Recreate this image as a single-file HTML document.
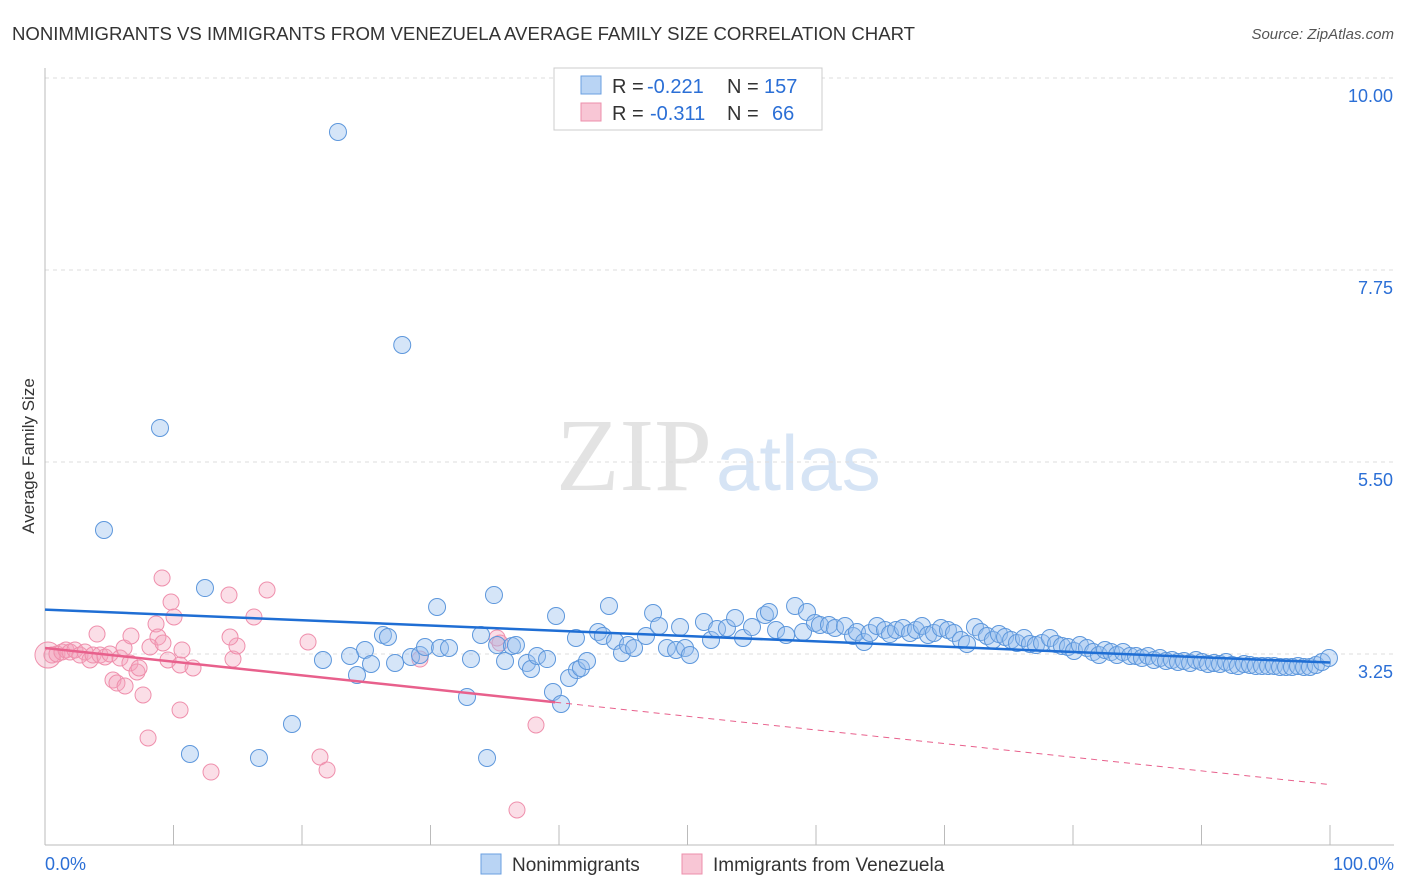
<!DOCTYPE html>
<html><head><meta charset="utf-8"><style>
body{margin:0;background:#fff;font-family:"Liberation Sans",sans-serif;}
svg{display:block}
</style></head><body>
<svg id="chart" width="1406" height="892">
<text x="12" y="40" font-size="18.6" fill="#333" textLength="903">NONIMMIGRANTS VS IMMIGRANTS FROM VENEZUELA AVERAGE FAMILY SIZE CORRELATION CHART</text>
<text x="1394" y="39" font-size="15" fill="#555" font-style="italic" text-anchor="end">Source: ZipAtlas.com</text>
<text x="712" y="490" font-size="104" fill="#e3e3e3" text-anchor="end" font-family="Liberation Serif,serif">ZIP</text>
<text x="716" y="490" font-size="78" fill="#d6e4f5">atlas</text>
<text transform="translate(34,456) rotate(-90)" font-size="17" fill="#333" text-anchor="middle">Average Family Size</text>
<g id="grid"></g><g id="marks"></g>
<g>
<rect x="554" y="68" width="268" height="62" fill="#fff" stroke="#ccc"/>
<rect x="581" y="76" width="20" height="18" fill="#b9d4f4" stroke="#6a9fe0"/>
<text x="612" y="93" font-size="20" fill="#333">R =</text>
<text x="647" y="93" font-size="20" fill="#2b6fd6">-0.221</text>
<text x="727" y="93" font-size="20" fill="#333">N =</text>
<text x="764" y="93" font-size="20" fill="#2b6fd6">157</text>
<rect x="581" y="103" width="20" height="18" fill="#f8c6d5" stroke="#ec8fab"/>
<text x="612" y="120" font-size="20" fill="#333">R =</text>
<text x="650" y="120" font-size="20" fill="#2b6fd6">-0.311</text>
<text x="727" y="120" font-size="20" fill="#333">N =</text>
<text x="772" y="120" font-size="20" fill="#2b6fd6">66</text>
</g>
<g>
<rect x="481" y="854" width="20" height="20" fill="#b9d4f4" stroke="#6a9fe0"/>
<text x="512" y="871" font-size="19" fill="#333">Nonimmigrants</text>
<rect x="682" y="854" width="20" height="20" fill="#f8c6d5" stroke="#ec8fab"/>
<text x="713" y="871" font-size="19" fill="#333">Immigrants from Venezuela</text>
</g>
<text x="45" y="870" font-size="18" fill="#2b6fd6">0.0%</text>
<text x="1394" y="870" font-size="18" fill="#2b6fd6" text-anchor="end">100.0%</text>
</svg>
<script>
const yTicks=[10.00,7.75,5.50,3.25];
const yTickLabels=["10.00","7.75","5.50","3.25"];
const xTicks=[0,10,20,30,40,50,60,70,80,90,100];
const blueX=[229,305,160,104,205,437,494,556,609,653,323,357,292,190,259,467,487,553,561,383,388,365,371,350,395,411,420,425,440,449,471,481,497,505,512,516,527,531,537,547,569,577,581,587,576,598,603,615,622,628,634,646,659,667,676,685,690,680,704,711,717,727,735,743,752,765,769,776,786,795,803,807,815,820,829,835,845,853,857,864,870,877,885,890,896,903,910,916,922,928,934,941,948,954,961,967,975,981,987,993,999,1005,1011,1017,1024,1030,1036,1042,1050,1056,1062,1068,1074,1080,1087,1093,1099,1105,1111,1117,1123,1130,1136,1142,1148,1154,1160,1166,1172,1178,1184,1190,1196,1202,1208,1214,1220,1226,1232,1238,1244,1250,1256,1262,1268,1274,1280,1286,1292,1298,1304,1310,1316,1322,1329].map(p=>+((p-45)/12.85).toFixed(2));
blueX[0]=22.8;blueX[1]=27.8;
const blueY=[132,345,428,530,588,607,595,616,606,613,660,675,724,754,758,697,758,692,704,635,637,650,664,656,663,657,655,647,648,648,659,635,645,661,646,645,663,669,656,659,678,670,668,661,638,632,636,641,653,645,648,636,626,648,650,648,655,627,622,640,629,628,618,638,627,615,612,630,635,606,632,612,623,625,625,628,626,636,632,642,633,626,630,634,630,628,633,630,626,635,633,628,630,633,640,644,627,632,636,640,634,637,640,643,638,644,645,643,638,644,646,647,651,645,648,652,655,650,652,655,652,656,656,658,656,660,658,661,660,662,661,663,660,662,664,663,664,662,665,666,664,665,666,666,666,666,667,667,667,666,667,667,665,662,658].map(p=>+(3.25+(654-p)/85.33).toFixed(3));
const pinkX=[48,52,57,62,66,70,75,80,85,90,93,97,100,105,110,113,117,120,125,124,130,131,137,139,143,148,150,156,158,162,163,168,171,174,180,180,182,193,211,229,233,237,254,267,308,320,327,420,497,500,517,536,230].map(p=>+((p-45)/12.85).toFixed(2));
const pinkY=[655,655,654,652,650,652,650,655,652,660,655,634,655,657,654,680,683,658,686,648,663,636,672,668,695,738,647,624,637,578,643,660,602,617,665,710,650,668,772,595,659,646,617,590,642,757,770,659,638,643,810,725,637].map(p=>+(3.25+(654-p)/85.33).toFixed(3));
const blueLine=[3.77,3.15];
const pinkLine=[3.32,1.72];
const pinkSolidEnd=39.7;
const L=45,R=1330,T=78,B=845;
const sx=v=>L+v/100*(R-L);
const sy=v=>654-(v-3.25)*(192/2.25);
const NS='http://www.w3.org/2000/svg';
function mk(tag,attrs,parent){const e=document.createElementNS(NS,tag);for(const k in attrs)e.setAttribute(k,attrs[k]);parent.appendChild(e);return e;}
const grid=document.getElementById('grid'),marks=document.getElementById('marks');
yTicks.forEach((t,i)=>{
 const g=mk('line',{x1:L,x2:1394,y1:sy(t),y2:sy(t),stroke:'#ddd','stroke-dasharray':'4,4'},grid);
 
 
 const tx=mk('text',{x:1393,y:sy(t)+24,'font-size':18,fill:'#2b6fd6','text-anchor':'end'},grid);
 tx.textContent=yTickLabels[i];
 
 
});
const ax=mk('line',{x1:L,x2:L,y1:68,y2:B,stroke:'#bbb'},grid);


const bx=mk('line',{x1:L,x2:1394,y1:B,y2:B,stroke:'#bbb'},grid);


xTicks.forEach(t=>{
 const l=mk('line',{x1:sx(t),x2:sx(t),y1:B-20,y2:B,stroke:'#bbb'},grid);
 
 
});
pinkX.forEach((x,i)=>{
 const c=mk('circle',{cx:sx(x),cy:sy(pinkY[i]),r:i==0?13:8,fill:'rgba(244,160,185,0.35)',stroke:'#ef8fac','stroke-width':1},marks);
 
 
});
blueX.forEach((x,i)=>{
 const c=mk('circle',{cx:sx(x),cy:sy(blueY[i]),r:8.5,fill:'rgba(150,190,238,0.4)',stroke:'#5d97dc','stroke-width':1},marks);
 
 
});
const bl=mk('line',{x1:sx(0),y1:sy(blueLine[0]),x2:sx(100),y2:sy(blueLine[1]),stroke:'#1f6ed4','stroke-width':2.5},marks);


const pv=x=>pinkLine[0]+(pinkLine[1]-pinkLine[0])*x/100;
const pl=mk('line',{x1:sx(0),y1:sy(pv(0)),x2:sx(pinkSolidEnd),y2:sy(pv(pinkSolidEnd)),stroke:'#e8608c','stroke-width':2.5},marks);


const pd=mk('line',{x1:sx(pinkSolidEnd),y1:sy(pv(pinkSolidEnd)),x2:sx(100),y2:sy(pv(100)),stroke:'#e8608c','stroke-width':1,'stroke-dasharray':'6,5'},marks);


</script>
</body></html>
